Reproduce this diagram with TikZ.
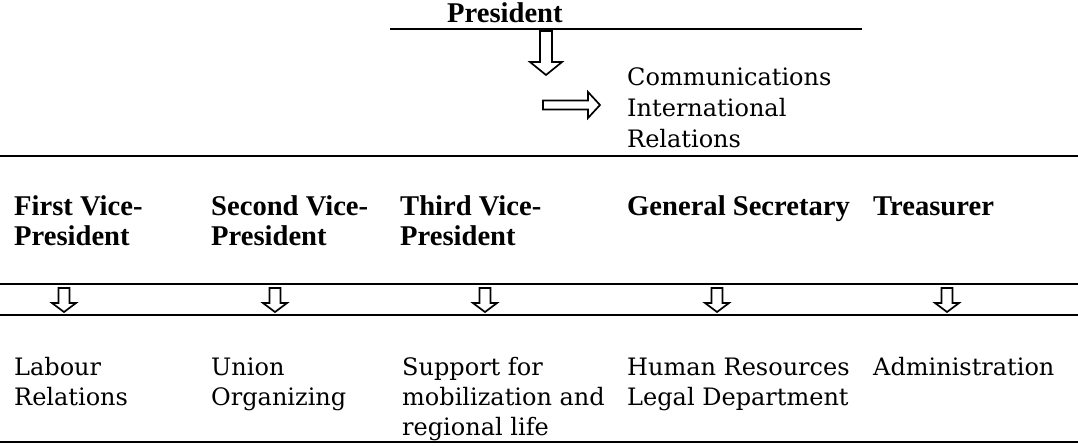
\documentclass[tikz,border=0pt]{standalone}
\usepackage{fontspec}
\setmainfont{DejaVu Serif}
\newfontfamily\headfont{Liberation Serif}
\usepackage{tikz}
\usetikzlibrary{positioning, calc}

% hollow block arrows: #1 = centre x, #2 = top, #3 = head start, #4 = tip, #5 = shaft half, #6 = head half
\newcommand{\downblock}[6]{%
  \draw[hollow] (#1-#5,#2) -- (#1-#5,#3) -- (#1-#6,#3) -- (#1,#4)
    -- (#1+#6,#3) -- (#1+#5,#3) -- (#1+#5,#2) -- cycle;}

\tikzset{
  rule/.style={line width=2.5pt},
  hollow/.style={draw, line width=1.7pt, fill=white, line join=miter},
  % base west = baseline of the last line
  boss/.style={font=\headfont\bfseries\fontsize{28.6}{30}\selectfont, anchor=base west, inner sep=0pt, align=left},
  unit/.style={font=\fontsize{24}{30}\selectfont, anchor=base west, inner sep=0pt, align=left},
}

\begin{document}
\begin{tikzpicture}[x=1pt, y=-1pt]
    \useasboundingbox (0,0) rectangle (1078,445);

    % president and the office under him
    \node[boss] (pres) at (447,22) {President};
    \draw[rule] (390,29) -- (862,29);
    \downblock{546}{31}{62}{75}{6}{16}
    \draw[hollow] (543,100.5) -- (588,100.5) -- (588,92) -- (600,105)
      -- (588,118) -- (588,109.5) -- (543,109.5) -- cycle;
    \node[unit, font=\fontsize{24}{31}\selectfont] (comm) at (627,147) {Communications\\International\\Relations};
    \draw[rule] (0,156) -- (1078,156);

    % officers
    \node[boss] (vp1) at (14,245) {First Vice-\\President};
    \node[boss] (vp2) at (211,245) {Second Vice-\\President};
    \node[boss] (vp3) at (400,245) {Third Vice-\\President};
    \node[boss] (gsec) at (627,215) {General Secretary};
    \node[boss] (treas) at (873,215) {Treasurer};

    \draw[rule] (0,284) -- (1078,284);
    \foreach \cx in {64,275,485,717,947}
      \downblock{\cx}{288}{303}{312}{5.5}{12}
    \draw[rule] (0,315) -- (1078,315);

    % departments
    \node[unit] (lab) at (14,405) {Labour\\Relations};
    \node[unit] (uni) at (211,405) {Union\\Organizing};
    \node[unit] (sup) at (402,435) {Support for\\mobilization and\\regional life};
    \node[unit] (hr) at (627,405) {Human Resources\\Legal Department};
    \node[unit] (adm) at (873,375) {Administration};
    \draw[rule] (0,442) -- (1078,442);

\end{tikzpicture}
\end{document}
